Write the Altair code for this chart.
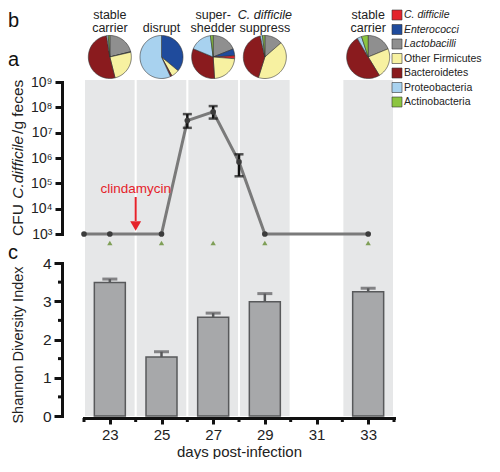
import math
import json
import altair as alt
import pandas as pd

FONT = "Liberation Sans"

# ---------------- data ----------------
taxa = ["C. difficile", "Enterococci", "Lactobacilli", "Other Firmicutes",
        "Bacteroidetes", "Proteobacteria", "Actinobacteria"]
taxa_italic = [True, True, True, False, False, False, False]
taxa_colors = ["#e3242b", "#1f4b9c", "#8f8f8f", "#f7f1a1", "#8a1b1e", "#a8d2ef", "#8cc540"]
slice_order = ["Lactobacilli", "Enterococci", "C. difficile", "Other Firmicutes",
               "Bacteroidetes", "Proteobacteria", "Actinobacteria"]

pie_days = [23, 25, 27, 29, 33]
pie_line1 = ["stable", "", "super-", "C. difficile", "stable"]
pie_line2 = ["carrier", "disrupt", "shedder", "suppress", "carrier"]
pie_line1_italic = [False, False, False, True, False]
# composition of each pie, in the order of `taxa`
pie_23 = [0.0, 0.004, 0.21, 0.247, 0.515, 0.012, 0.012]
pie_25 = [0.0, 0.36, 0.0, 0.06, 0.012, 0.568, 0.0]
pie_27 = [0.022, 0.051, 0.188, 0.225, 0.32, 0.166, 0.02]
pie_29 = [0.0, 0.0, 0.135, 0.41, 0.415, 0.017, 0.017]
pie_33 = [0.0, 0.0, 0.188, 0.225, 0.503, 0.034, 0.05]
pie_values = [pie_23, pie_25, pie_27, pie_29, pie_33]

band_days = [23, 25, 27, 29, 33]

cfu_days = [22, 23, 25, 26, 27, 28, 29, 33]
cfu_vals = [1e3, 1e3, 1e3, 3.0e7, 6.6e7, 7.0e5, 1e3, 1e3]
err_days = [26, 27, 28]
err_lo = [1.55e7, 3.6e7, 1.9e5]
err_hi = [5.4e7, 1.12e8, 1.4e6]
marker_days = [23, 25, 27, 29, 33]
treat_day = [24]
treat_label = ["clindamycin"]
cfu_ticks = [1e3, 1e4, 1e5, 1e6, 1e7, 1e8, 1e9]
cfu_tick_labels = ["10³", "10⁴", "10⁵", "10⁶", "10⁷", "10⁸", "10⁹"]

div_days = [23, 25, 27, 29, 33]
div_vals = [3.49, 1.54, 2.58, 2.99, 3.25]
div_err = [3.58, 1.68, 2.69, 3.20, 3.34]
div_major = [0, 1, 2, 3, 4]
div_minor = [0.5, 1.5, 2.5, 3.5]
day_major = [23, 25, 27, 29, 31, 33]
day_minor = [22, 24, 26, 28, 30, 32, 34]


# ---------------- tables ----------------
def wedge_path(a0, a1):
    """SVG path of a pie wedge in the unit square [-1, 1] (12 o'clock, clockwise)."""
    n = max(2, int(math.ceil((a1 - a0) / math.radians(3))) + 1)
    parts = ["M0,0"]
    for i in range(n):
        a = a0 + (a1 - a0) * i / (n - 1)
        parts.append("L%.4f,%.4f" % (math.sin(a), -math.cos(a)))
    parts.append("Z")
    return "".join(parts)


pie_rows = []
for d, fr in zip(pie_days, pie_values):
    tot = sum(fr)
    cum = 0.0
    for name in slice_order:
        f = fr[taxa.index(name)] / tot
        if f <= 0:
            continue
        pie_rows.append({"day": d, "taxon": name,
                         "path": wedge_path(cum * 2 * math.pi, (cum + f) * 2 * math.pi)})
        cum += f
pie_df = pd.DataFrame(pie_rows)
leg_df = pd.DataFrame({"taxon": taxa, "it": taxa_italic})
lab_df = pd.DataFrame({"day": pie_days, "l1": pie_line1, "l2": pie_line2, "it": pie_line1_italic})
band_df = pd.DataFrame({"x0": [d - 0.96 for d in band_days], "x1": [d + 0.96 for d in band_days]})
cfu_df = pd.DataFrame({"day": cfu_days, "cfu": cfu_vals})
err_df = pd.DataFrame({"day": err_days, "lo": err_lo, "hi": err_hi})
mark_df = pd.DataFrame({"day": marker_days})
treat_df = pd.DataFrame({"day": treat_day, "t": treat_label})
div_df = pd.DataFrame({"day": div_days, "v": div_vals, "e": div_err})

W, H = 310, 408
A_TOP, A_LOW = 74, 226      # 1e9 and 1e3
C_TOP, C_ZERO = 255, 408    # 4 and 0

xs = alt.Scale(domain=[22, 34], nice=False, zero=False, padding=0)
axis_x = alt.Axis(values=day_major, tickSize=6, offset=2,
                  title="days post-infection", titleFontSize=15, titleFontWeight="normal",
                  titleColor="#222", titlePadding=2, labelFontSize=15, labelPadding=3, labelFlush=False)
color_scale = alt.Scale(domain=taxa, range=taxa_colors)


def X(field):
    return alt.X(field, scale=xs, axis=axis_x)


def txt(text, x, y, size=20, **kw):
    return alt.Chart(pd.DataFrame({"t": [text]})).mark_text(
        font=FONT, fontSize=size, color="#111", align="left", baseline="alphabetic", **kw
    ).encode(x=alt.value(x), y=alt.value(y), text="t:N")


def rot(text, y, italic=False, align="left", size=15.5, x=-66):
    kw = {"fontStyle": "italic"} if italic else {}
    return alt.Chart(pd.DataFrame({"t": [text]})).mark_text(
        font=FONT, fontSize=size, color="#222", angle=270, align=align, baseline="middle", **kw
    ).encode(x=alt.value(x), y=alt.value(y), text="t:N")


bands = alt.Chart(band_df).mark_rect(color="#e6e7e8").encode(
    x=X("x0:Q"), x2="x1:Q", y=alt.value(72), y2=alt.value(H))

# ---------------- pies + legend ----------------
pies = alt.Chart(pie_df).mark_point(filled=True, opacity=1, size=1850,
                                    stroke="#333", strokeWidth=0.6).encode(
    x=X("day:Q"),
    y=alt.value(49),
    shape=alt.Shape("path:N", scale=None, legend=None),
    color=alt.Color("taxon:N", scale=color_scale, legend=None),
)
l1n = alt.Chart(lab_df).transform_filter("!datum.it").mark_text(
    font=FONT, fontSize=12.5, color="#222", baseline="alphabetic").encode(
    x=X("day:Q"), y=alt.value(11), text="l1:N")
l1i = alt.Chart(lab_df).transform_filter("datum.it").mark_text(
    font=FONT, fontSize=12.5, color="#222", baseline="alphabetic", fontStyle="italic").encode(
    x=X("day:Q"), y=alt.value(11), text="l1:N")
l2 = alt.Chart(lab_df).mark_text(
    font=FONT, fontSize=12.5, color="#222", baseline="alphabetic").encode(
    x=X("day:Q"), y=alt.value(24), text="l2:N")

leg_y = alt.Y("taxon:N", scale=alt.Scale(type="point", domain=taxa, range=[7, 94], padding=0), axis=None)
leg_sq = alt.Chart(leg_df).mark_square(size=100, opacity=1, stroke="#333", strokeWidth=0.6).encode(
    x=alt.value(313), y=leg_y, color=alt.Color("taxon:N", scale=color_scale, legend=None))
leg_tn = alt.Chart(leg_df).transform_filter("!datum.it").mark_text(
    font=FONT, fontSize=10.5, color="#222", align="left", baseline="middle").encode(
    x=alt.value(320), y=leg_y, text="taxon:N")
leg_ti = alt.Chart(leg_df).transform_filter("datum.it").mark_text(
    font=FONT, fontSize=10.5, color="#222", align="left", baseline="middle", fontStyle="italic").encode(
    x=alt.value(320), y=leg_y, text="taxon:N")

top_layer = alt.layer(pies, l1n, l1i, l2, leg_sq, leg_tn, leg_ti, txt("b", -76, 19), txt("a", -76, 58))

# ---------------- panel a ----------------
ys_a = alt.Scale(type="log", domain=[1e3, 1e9], range=[A_LOW, A_TOP])
label_expr_a = json.dumps(cfu_tick_labels, ensure_ascii=False) + "[round(log(datum.value)/LN10) - 3]"
axis_a = alt.Axis(values=cfu_ticks, labelExpr=label_expr_a, title=None, offset=22, orient="left",
                  tickSize=7, labelFontSize=14, labelPadding=3)


def YA(field):
    return alt.Y(field, scale=ys_a, axis=axis_a)


line_a = alt.Chart(cfu_df).mark_line(color="#7a7a7a", strokeWidth=3).encode(
    x=X("day:Q"), y=YA("cfu:Q"))
pts_a = alt.Chart(cfu_df).mark_circle(size=32, color="#3c3c3c", opacity=1).encode(
    x=X("day:Q"), y=YA("cfu:Q"))
err_rule = alt.Chart(err_df).mark_rule(color="#111", strokeWidth=2.5).encode(
    x=X("day:Q"), y=YA("lo:Q"), y2="hi:Q")
err_cap_lo = alt.Chart(err_df).mark_tick(orient="horizontal", size=9, thickness=2.5, color="#111").encode(
    x=X("day:Q"), y=YA("lo:Q"))
err_cap_hi = alt.Chart(err_df).mark_tick(orient="horizontal", size=9, thickness=2.5, color="#111").encode(
    x=X("day:Q"), y=YA("hi:Q"))
tri = alt.Chart(mark_df).mark_point(shape="triangle-up", filled=True, size=28, color="#7f9f57", opacity=1).encode(
    x=X("day:Q"), y=alt.value(A_LOW + 9))
treat_txt = alt.Chart(treat_df).mark_text(font=FONT, fontSize=13.5, color="#e5222a", baseline="middle").encode(
    x=X("day:Q"), y=alt.value(181), text="t:N")
treat_shaft = alt.Chart(treat_df).mark_rule(color="#e5222a", strokeWidth=2).encode(
    x=X("day:Q"), y=alt.value(189), y2=alt.value(213))
treat_head = alt.Chart(treat_df).mark_point(shape="triangle-down", filled=True, size=120,
                                            color="#e5222a", opacity=1).encode(
    x=X("day:Q"), y=alt.value(218))

# y title of panel a, in three runs (the middle one italic), reading upwards
w_cfu, w_cd = 36.2 * 1.03, 62.9 * 1.03
title_a = [rot("CFU ", 228), rot("C.difficile", 228 - w_cfu, True), rot("/g feces", 228 - w_cfu - w_cd)]

layer_a = alt.layer(line_a, err_rule, err_cap_lo, err_cap_hi, pts_a, tri,
                    treat_txt, treat_shaft, treat_head, *title_a)

# ---------------- panel c ----------------
ys_c = alt.Scale(domain=[0, 4], nice=False, range=[C_ZERO, C_TOP])
axis_c = alt.Axis(values=div_major, tickSize=8, offset=22, title=None, orient="left",
                  labelFontSize=15.5, labelPadding=3)


def YC(field):
    return alt.Y(field, scale=ys_c, axis=axis_c)


bars = alt.Chart(div_df).mark_bar(size=31, color="#a7a8aa", stroke="#58595b", strokeWidth=1.5).encode(
    x=X("day:Q"), y=YC("v:Q"))
bar_err = alt.Chart(div_df).mark_rule(color="#58595b", strokeWidth=2.5).encode(
    x=X("day:Q"), y=YC("v:Q"), y2="e:Q")
bar_cap = alt.Chart(div_df).mark_tick(orient="horizontal", size=15, thickness=3, color="#58595b").encode(
    x=X("day:Q"), y=YC("e:Q"))
minor_x = alt.Chart(pd.DataFrame({"day": day_minor})).mark_rule(color="#111", strokeWidth=3).encode(
    x=X("day:Q"), y=alt.value(H + 2), y2=alt.value(H + 6))
minor_y = alt.Chart(pd.DataFrame({"v": div_minor})).mark_rule(color="#111", strokeWidth=3).encode(
    y=YC("v:Q"), x=alt.value(-22), x2=alt.value(-26))

layer_c = alt.layer(bars, bar_err, bar_cap, minor_x, minor_y,
                    rot("Shannon Diversity Index", 337, align="center", size=14.5, x=-65),
                    txt("c", -76, 251))

chart = alt.layer(bands, top_layer, layer_a, layer_c).resolve_scale(y="independent").resolve_axis(
    y="independent"
).properties(
    width=W, height=H, padding=0
).configure(padding=0).configure_view(stroke=None).configure_axis(
    domainColor="#111", tickColor="#111", labelColor="#222", labelFont=FONT, titleFont=FONT,
    grid=False, domainWidth=3, tickWidth=3, domainCap="square"
)

chart.save("out.html", embed_options={"renderer": "svg", "actions": False})
